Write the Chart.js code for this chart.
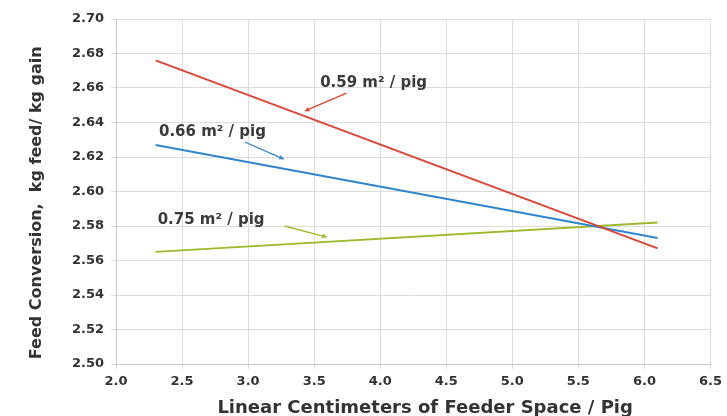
<!DOCTYPE html>
<html>
<head>
<meta charset="utf-8">
<script src="https://cdn.jsdelivr.net/npm/chart.js@4/dist/chart.umd.min.js"></script>
<style>
  html, body { margin: 0; padding: 0; background: #fff; }
  #wrap { width: 727px; height: 416px; }
</style>
</head>
<body>
<div id="wrap"><canvas id="chart" width="727" height="416"></canvas></div>
<script>
// Feeder space (cm / pig) at the ends of each fitted line
const feederSpace = [2.3, 6.1];
const fc059 = [2.676, 2.567];
const fc066 = [2.627, 2.573];
const fc075 = [2.565, 2.582];

const seriesNames = ['0.59 m² / pig', '0.66 m² / pig', '0.75 m² / pig'];
const seriesColors = ['#dc4434', '#2f86cf', '#9dba2c'];

// label positions and arrows, in data units
const labelX = [3.95, 2.73, 2.72];
const labelY = [2.663, 2.6345, 2.5835];
const arrowFromX = [3.745, 2.975, 3.276];
const arrowFromY = [2.657, 2.6287, 2.5800];
const arrowToX = [3.43, 3.27, 3.594];
const arrowToY = [2.6467, 2.6188, 2.5736];

const xTitle = 'Linear Centimeters of Feeder Space / Pig';
const yTitle = 'Feed Conversion,  kg feed/ kg gain';

const FONT = 'DejaVu Sans';

function toPoints(ys) {
    return feederSpace.map((x, i) => ({ x: x, y: ys[i] }));
}

const datasets = [fc059, fc066, fc075].map((ys, i) => ({
    label: seriesNames[i],
    data: toPoints(ys),
    showLine: true,
    borderColor: seriesColors[i],
    backgroundColor: seriesColors[i],
    borderWidth: 2,
    pointRadius: 0,
    tension: 0
}));

// Draw the series labels with their little arrows, plus both axis titles
const labelPlugin = {
    id: 'seriesLabels',
    afterDatasetsDraw(chart) {
        const ctx = chart.ctx;
        const xs = chart.scales.x, ys = chart.scales.y;
        ctx.save();
        for (let i = 0; i < seriesNames.length; i++) {
            const x1 = xs.getPixelForValue(arrowFromX[i]);
            const y1 = ys.getPixelForValue(arrowFromY[i]);
            const x2 = xs.getPixelForValue(arrowToX[i]);
            const y2 = ys.getPixelForValue(arrowToY[i]);
            ctx.strokeStyle = seriesColors[i];
            ctx.fillStyle = seriesColors[i];
            ctx.lineWidth = 1.3;
            ctx.beginPath();
            ctx.moveTo(x1, y1);
            ctx.lineTo(x2, y2);
            ctx.stroke();
            const a = Math.atan2(y2 - y1, x2 - x1);
            ctx.beginPath();
            ctx.moveTo(x2, y2);
            ctx.lineTo(x2 - 5 * Math.cos(a - 0.5), y2 - 5 * Math.sin(a - 0.5));
            ctx.lineTo(x2 - 5 * Math.cos(a + 0.5), y2 - 5 * Math.sin(a + 0.5));
            ctx.closePath();
            ctx.fill();

            ctx.fillStyle = '#3a3a3a';
            ctx.font = 'bold 15px "' + FONT + '"';
            ctx.textAlign = 'center';
            ctx.textBaseline = 'middle';
            ctx.fillText(seriesNames[i], xs.getPixelForValue(labelX[i]), ys.getPixelForValue(labelY[i]));
        }

        // x axis title (slightly right of the plot centre in the original)
        ctx.fillStyle = '#333';
        ctx.font = 'bold 18px "' + FONT + '"';
        ctx.textAlign = 'center';
        ctx.textBaseline = 'alphabetic';
        ctx.fillText(xTitle, xs.getPixelForValue(4.34), 413);

        // y axis title, sits a little below the plot centre
        ctx.translate(37, ys.getPixelForValue(2.5935));
        ctx.rotate(-Math.PI / 2);
        ctx.font = 'bold 16px "' + FONT + '"';
        ctx.textBaseline = 'middle';
        ctx.fillText(yTitle, 0, 0);
        ctx.restore();
    }
};

new Chart(document.getElementById('chart'), {
    type: 'scatter',
    data: { datasets: datasets },
    options: {
        responsive: false,
        animation: false,
        layout: { padding: { top: 19, right: 15, left: 0, bottom: 0 } },
        plugins: {
            legend: { display: false },
            tooltip: { enabled: false }
        },
        scales: {
            x: {
                type: 'linear',
                min: 2.0,
                max: 6.5,
                ticks: {
                    stepSize: 0.5,
                    color: '#333',
                    font: { family: FONT, size: 13, weight: 'bold' },
                    padding: 5,
                    maxRotation: 0,
                    callback: v => v.toFixed(1)
                },
                grid: { color: '#dcdcdc', tickLength: 5 },
                border: { color: '#c8c8c8' },
                afterFit(scale) { scale.height = 52; }
            },
            y: {
                min: 2.50,
                max: 2.70,
                ticks: {
                    stepSize: 0.02,
                    color: '#333',
                    font: { family: FONT, size: 13, weight: 'bold' },
                    padding: 7,
                    callback: v => v.toFixed(2)
                },
                grid: { color: '#dcdcdc', tickLength: 5 },
                border: { color: '#c8c8c8' },
                afterFit(scale) { scale.width = 116; }
            }
        }
    },
    plugins: [labelPlugin]
});
</script>
</body>
</html>
